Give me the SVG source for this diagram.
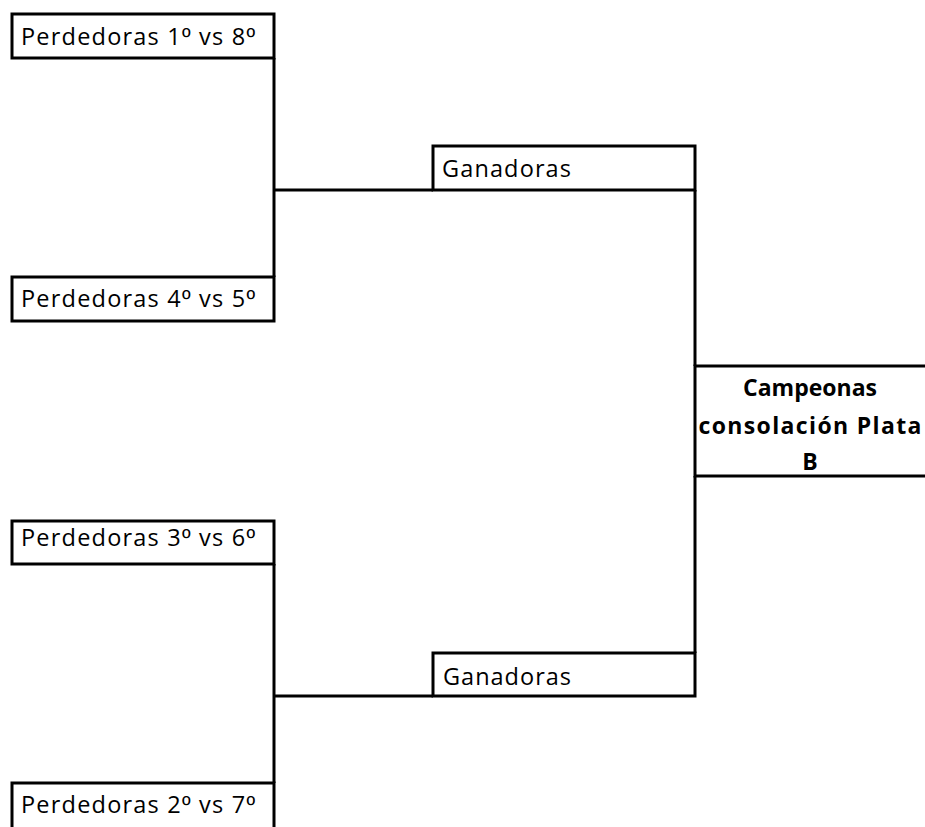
<svg xmlns="http://www.w3.org/2000/svg" width="925" height="827" viewBox="0 0 925 827">
<style>
.box{fill:#ffffff;stroke:#000000;stroke-width:3}
.ln{fill:none;stroke:#000000;stroke-width:3}
.t{font-family:"Open Sans","Noto Sans","Liberation Sans",sans-serif;font-size:23.5px;fill:#000000}
.o{font-family:"Liberation Sans",sans-serif}
.b{font-family:"Open Sans","Noto Sans","Liberation Sans",sans-serif;font-size:23px;font-weight:bold;fill:#000000;text-anchor:middle}
</style>
<rect x="0" y="0" width="925" height="827" fill="#ffffff"/>
<g id="connectors">
<path class="ln" d="M274,58 V277"/>
<path class="ln" d="M274,190 H433"/>
<path class="ln" d="M274,564 V783"/>
<path class="ln" d="M274,696 H433"/>
<path class="ln" d="M695,190 V366"/>
<path class="ln" d="M695,476 V653"/>
</g>
<g id="p1v8">
<rect class="box" x="12" y="14" width="262" height="44"/>
<text class="t" x="21" y="45" textLength="234" lengthAdjust="spacing">Perdedoras 1<tspan class="o">º</tspan> vs 8<tspan class="o">º</tspan></text>
</g>
<g id="p4v5">
<rect class="box" x="12" y="277" width="262" height="44"/>
<text class="t" x="21" y="307" textLength="234" lengthAdjust="spacing">Perdedoras 4<tspan class="o">º</tspan> vs 5<tspan class="o">º</tspan></text>
</g>
<g id="p3v6">
<rect class="box" x="12" y="521" width="262" height="43"/>
<text class="t" x="21" y="546" textLength="234" lengthAdjust="spacing">Perdedoras 3<tspan class="o">º</tspan> vs 6<tspan class="o">º</tspan></text>
</g>
<g id="p2v7">
<rect class="box" x="12" y="783" width="262" height="60"/>
<text class="t" x="21" y="813" textLength="234" lengthAdjust="spacing">Perdedoras 2<tspan class="o">º</tspan> vs 7<tspan class="o">º</tspan></text>
</g>
<g id="ganadoras1">
<rect class="box" x="433" y="146" width="262" height="44"/>
<text class="t" x="442" y="177" textLength="129" lengthAdjust="spacing">Ganadoras</text>
</g>
<g id="ganadoras2">
<rect class="box" x="433" y="653" width="262" height="43"/>
<text class="t" x="443" y="685" textLength="128" lengthAdjust="spacing">Ganadoras</text>
</g>
<g id="campeonas">
<rect class="box" x="695" y="366" width="250" height="110"/>
<text class="b" x="810" y="396">Campeonas</text>
<text class="b" x="810" y="434" textLength="223" lengthAdjust="spacing">consolación Plata</text>
<text class="b" x="810" y="470">B</text>
</g>
</svg>
